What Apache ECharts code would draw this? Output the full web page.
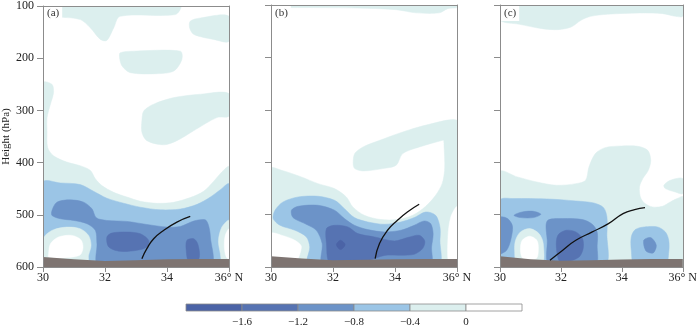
<!DOCTYPE html>
<html>
<head>
<meta charset="utf-8">
<script src="https://cdn.jsdelivr.net/npm/echarts@6/dist/echarts.min.js"></script>
<style>
html, body { margin: 0; background: #fff; }
#chart { width: 700px; height: 328px; }
</style>
</head>
<body>
<div id="chart"></div>
<script>
// contour levels: 1 (< -1.6) ... 5 (-0.4..0), 6 (> 0)
const levelColors = { 1: '#4b63a6', 2: '#5673b2', 3: '#6c93c8', 4: '#9bc5e6', 5: '#dcefee', 6: '#ffffff' }
const barEdges = [-2.0, -1.6, -1.2, -0.8, -0.4, 0, 0.4]
const barLevels = [1, 2, 3, 4, 5, 6]
const panelNames = ['(a)', '(b)', '(c)']

// filled contour regions [level, [[lat, hPa], ...]], drawn in order
const contoursA = [
  [5, [[30, 100], [34.43, 100], [34.27, 116.5], [32.49, 119.7], [32.28, 142], [32.06, 166], [31.85, 164], [31.53, 142], [31.2, 126], [30.56, 121.6], [30, 121.6]]],
  [5, [[34.75, 129], [35.08, 122.9], [36, 119.7], [36, 167.4], [35.5, 164], [34.87, 154.6], [34.73, 142]]],
  [5, [[32.49, 189.7], [32.92, 186.5], [34.43, 186.5], [34.48, 202.4], [34.22, 224.7], [33.68, 229.7], [32.82, 227.8], [32.55, 215], [32.47, 199]]],
  [5, [[33.19, 320], [33.25, 301], [33.57, 288], [34.22, 275.5], [35.08, 269], [36, 268], [36, 310.5], [35.61, 313.7], [34.86, 339], [34.32, 358], [33.89, 366], [33.35, 358], [33.19, 342]]],
  [5, [[30, 247], [30.29, 250], [30.34, 266], [30.24, 288], [30.13, 314], [30.13, 339], [30.15, 371], [30.34, 387], [30.77, 399], [31.2, 406], [31.53, 415], [31.69, 431], [31.9, 444], [32.28, 457], [32.71, 466], [33.14, 474], [33.68, 478], [34.21, 476], [34.75, 467], [35.18, 455], [35.5, 436], [35.77, 418], [36, 408], [36, 600], [30, 600]]],
  [4, [[30, 437.7], [30.56, 439], [31.2, 442.1], [31.63, 454.9], [32.06, 468.2], [32.6, 477.8], [33.14, 485.4], [33.78, 490.5], [34.43, 489], [34.97, 480], [35.4, 466], [35.72, 452], [36, 441], [36, 600], [30, 600]]],
  [5, [[30, 549], [30.07, 539.5], [30.34, 528.6], [30.77, 523.6], [31.2, 526.7], [31.47, 539.5], [31.55, 558.5], [31.47, 577.6], [31.42, 596], [30, 596]]],
  [6, [[30.18, 574.5], [30.24, 555.4], [30.5, 542.6], [30.93, 539.5], [31.22, 547.7], [31.29, 563], [31.18, 577.6], [30.6, 583], [30.18, 580.8]]],
  [5, [[36, 511], [35.77, 523.5], [35.66, 549], [35.72, 574], [35.8, 596], [36, 596]]],
  [6, [[36, 527], [35.88, 539.4], [35.85, 561.7], [35.91, 580.8], [36, 584]]],
  [3, [[30.29, 491.7], [30.45, 475.8], [30.88, 471.4], [31.31, 475.8], [31.58, 488.6], [31.72, 505.7], [32.06, 510.8], [32.71, 512.7], [33.35, 518.5], [34.0, 523.5], [34.43, 522.3], [34.86, 512], [35.23, 509.5], [35.34, 520.4], [35.4, 542.6], [35.4, 596], [31.79, 596], [31.74, 555.3], [31.69, 530], [31.42, 517.2], [30.99, 510.8], [30.56, 507.6], [30.29, 501.3]]],
  [2, [[32.06, 542.6], [32.22, 535], [32.71, 533], [33.14, 536.3], [33.41, 549], [33.35, 561.7], [33.03, 568], [32.49, 570], [32.12, 561.7]]],
  [2, [[34.64, 549], [34.86, 545.8], [34.99, 555.3], [35.05, 577.6], [34.97, 590], [34.7, 590], [34.62, 568]]]
]

const contoursB = [
  [5, [[30, 100], [36, 100], [36, 105], [35.7, 107], [35.43, 115], [34.68, 115], [34.04, 109], [32.97, 106], [31.37, 105], [30, 104]]],
  [5, [[32.65, 402.7], [32.7, 383.6], [32.97, 370.9], [33.51, 358.2], [34.25, 342.3], [35.11, 327.6], [36, 320], [36, 351.8], [35.54, 358.2], [34.79, 370.9], [34.25, 383.6], [34.04, 405.8], [33.61, 412.2], [32.97, 416.7], [32.7, 412.2]]],
  [5, [[30, 412.2], [30.34, 415.4], [30.98, 428.1], [31.52, 440.9], [32.05, 450.4], [32.43, 466.3], [32.64, 485.4], [33.01, 501.3], [33.55, 509.5], [34.08, 509.5], [34.57, 501.3], [34.99, 484.1], [35.31, 463.1], [35.52, 440.9], [35.6, 415.4], [35.6, 390], [35.58, 364.5], [35.6, 345], [36, 340], [36, 600], [30, 600]]],
  [6, [[30, 536.3], [30.34, 539.4], [30.77, 549], [30.98, 561.7], [30.72, 596], [30, 596]]],
  [6, [[36, 485.4], [35.8, 504.5], [35.71, 542.6], [35.74, 596], [36, 596]]],
  [4, [[30.13, 491.7], [30.39, 475.8], [30.88, 466.3], [31.52, 465], [32.05, 472.7], [32.37, 488.6], [32.69, 505.7], [33.12, 514], [33.66, 518.5], [34.19, 514], [34.62, 505.7], [34.99, 495], [35.31, 501.3], [35.45, 523.5], [35.45, 549], [35.39, 596], [31.2, 596], [31.25, 561.7], [31.14, 542.6], [30.77, 529.9], [30.29, 520.4], [30.07, 507.6]]],
  [3, [[30.66, 491.7], [30.88, 484.1], [31.52, 482.2], [32.05, 491.7], [32.37, 507.6], [32.69, 520.4], [33.12, 528.6], [33.66, 533.1], [34.19, 529.9], [34.62, 520.4], [34.94, 512.1], [35.15, 517.2], [35.23, 536.3], [35.18, 561.7], [35.13, 596], [31.68, 596], [31.65, 555.3], [31.46, 529.9], [31.09, 517.2], [30.71, 505.7]]],
  [2, [[31.79, 526.7], [32.05, 520.4], [32.48, 523.5], [32.8, 536.3], [33.34, 542.6], [33.98, 550.3], [34.4, 543.9], [34.78, 539.4], [34.96, 550.3], [34.89, 564.9], [34.62, 575.7], [34.19, 577.6], [33.66, 578], [33.12, 588], [32.48, 592], [31.89, 592], [31.79, 555.3]]],
  [1, [[32.11, 557.3], [32.24, 549], [32.39, 557.3], [32.24, 566.8]]]
]

const contoursC = [
  [5, [[30, 100], [36, 100], [36, 121.6], [35.76, 121.6], [35.34, 116.5], [34.59, 115.2], [33.52, 117.7], [32.98, 121.6], [32.66, 129.2], [32.34, 141.9], [31.92, 147], [31.38, 145.1], [30.63, 136.8], [30, 129.2]]],
  [5, [[30, 418.6], [30.57, 428.1], [31.21, 437.7], [31.85, 444], [32.49, 440.9], [32.81, 434.5], [32.92, 409.1], [33.13, 383.6], [33.45, 372.2], [33.99, 369], [34.52, 369.6], [34.85, 377.3], [34.95, 396.3], [34.87, 415.4], [34.69, 431.3], [34.58, 447.2], [34.61, 466.3], [34.74, 477.8], [35.01, 485.4], [35.33, 484.1], [35.59, 475.8], [35.81, 469.5], [36, 466.3], [36, 600], [30, 600]]],
  [5, [[35.38, 444], [35.59, 434.5], [36, 431.3], [36, 460], [35.75, 456.8], [35.43, 450.4]]],
  [4, [[30, 472.7], [30.46, 469.5], [31.53, 470.1], [32.49, 473.9], [33.08, 477.8], [33.4, 486.7], [33.51, 504.5], [33.51, 536.3], [33.43, 596], [30, 596]]],
  [4, [[34.31, 542.6], [34.44, 528.6], [34.74, 523.5], [35.17, 523.5], [35.43, 533.1], [35.54, 549], [35.54, 571.2], [35.43, 596], [34.42, 596], [34.31, 568]]],
  [5, [[30.51, 549], [30.67, 533.1], [30.98, 526.7], [31.28, 536.3], [31.42, 555.3], [31.37, 596], [30.57, 596], [30.48, 568]]],
  [6, [[30.73, 549], [30.98, 541.3], [31.21, 549], [31.26, 564.9], [31.19, 584], [30.76, 584], [30.67, 568]]],
  [3, [[30, 505.7], [30.25, 507.6], [30.41, 522.3], [30.35, 549], [30.22, 568], [30.01, 575.7], [30, 575.7]]],
  [3, [[30.46, 501.3], [30.73, 494.9], [31.1, 493.7], [31.34, 499.4], [31.1, 505.7], [30.67, 505.7]]],
  [3, [[31.55, 512.1], [32.06, 507.6], [32.71, 509.5], [33.03, 518.5], [33.19, 533.1], [33.19, 558.5], [33.13, 596], [31.62, 596], [31.55, 549]]],
  [3, [[34.72, 549], [34.95, 543.9], [35.13, 558.5], [35.03, 573.1], [34.79, 569.3]]],
  [2, [[31.9, 539.4], [32.17, 529.9], [32.49, 533.1], [32.71, 545.8], [32.73, 564.9], [32.6, 580.8], [32.22, 590], [31.96, 590], [31.85, 561.7]]]
]

// terrain (surface pressure) along latitude
const terrainLat = [30, 31, 32, 33, 34, 35, 36]
const terrainA = [581, 585, 588.5, 587, 585, 584.5, 584.5]
const terrainB = [579.5, 584, 587, 586, 585, 584.5, 584.5]
const terrainC = [579.5, 585, 588, 587, 585.5, 584.5, 584.5]

// black line in each panel
const frontALat = [33.19, 33.35, 33.57, 33.89, 34.32, 34.75]
const frontAP = [584, 564.9, 545.8, 529.9, 514, 503.2]
const frontBLat = [33.36, 33.5, 33.76, 34.08, 34.4, 34.78]
const frontBP = [584, 555.3, 529.9, 510.8, 495, 480.3]
const frontCLat = [31.64, 32.06, 32.49, 33.03, 33.56, 34.04, 34.42, 34.76]
const frontCP = [587, 568, 549, 533.1, 517.2, 498.1, 490.5, 486.7]

const contours = [contoursA, contoursB, contoursC]
const terrains = [terrainA, terrainB, terrainC]
const fronts = [[frontALat, frontAP], [frontBLat, frontBP], [frontCLat, frontCP]]

const serif = '"Liberation Serif", "DejaVu Serif", serif'
const frameColor = '#8c8c8c'
const gridLefts = [43, 271, 500]

const chart = echarts.init(document.getElementById('chart'))

const grids = gridLefts.map((left) => ({ left, top: 5, width: 186, height: 262 }))
grids.push({ left: 186, top: 304, width: 336, height: 10 })

const xAxis = []
const yAxis = []
const lineOnly = { show: true, lineStyle: { color: frameColor, width: 1 } }
for (let i = 0; i < 3; i++) {
  xAxis.push({
    gridIndex: i, type: 'value', min: 30, max: 36, interval: 2, position: 'bottom', z: 10,
    axisLine: lineOnly,
    axisTick: { show: true, length: 5, lineStyle: { color: frameColor } },
    axisLabel: {
      margin: 5, color: '#222', fontFamily: serif, fontSize: 12,
      formatter: (v) => (v === 36 ? '36° N' : String(v))
    },
    splitLine: { show: false }
  })
  xAxis.push({
    gridIndex: i, type: 'value', min: 30, max: 36, position: 'top', z: 10,
    axisLine: lineOnly, axisTick: { show: false }, axisLabel: { show: false }, splitLine: { show: false }
  })
  yAxis.push({
    gridIndex: i, type: 'value', min: 100, max: 600, interval: 100, inverse: true, position: 'left', z: 10,
    name: i === 0 ? 'Height (hPa)' : '',
    nameLocation: 'middle', nameGap: 31, nameRotate: 90,
    nameTextStyle: { fontFamily: serif, fontSize: 11, color: '#222' },
    axisLine: lineOnly,
    axisTick: { show: true, length: 6, lineStyle: { color: frameColor } },
    axisLabel: { show: i === 0, margin: 9, color: '#222', fontFamily: serif, fontSize: 12 },
    splitLine: { show: false }
  })
  yAxis.push({
    gridIndex: i, type: 'value', min: 100, max: 600, inverse: true, position: 'right', z: 10,
    axisLine: lineOnly, axisTick: { show: false }, axisLabel: { show: false }, splitLine: { show: false }
  })
}
// colour bar axes
xAxis.push({
  gridIndex: 3, type: 'value', min: -2.0, max: 0.4, interval: 0.4,
  axisLine: { show: false }, axisTick: { show: false }, splitLine: { show: false },
  axisLabel: {
    margin: 6, color: '#222', fontFamily: serif, fontSize: 11,
    formatter: (v) => {
      if (v < -1.9 || v > 0.3) return ''
      if (Math.abs(v) < 1e-9) return '0'
      return '\u2212' + Math.abs(v).toFixed(1)
    }
  }
})
yAxis.push({ gridIndex: 3, type: 'value', min: 0, max: 1, show: false })

function contourSeries(polys, axisIdx) {
  return {
    type: 'custom',
    xAxisIndex: axisIdx,
    yAxisIndex: axisIdx,
    clip: true,
    silent: true,
    z: 1,
    data: polys.map((pl) => pl[1][0]),
    renderItem: (params, api) => {
      const [lvl, pts] = polys[params.dataIndex]
      return {
        type: 'polygon',
        shape: { points: pts.map((pt) => api.coord(pt)), smooth: 0.3 },
        style: { fill: levelColors[lvl], stroke: levelColors[lvl], lineWidth: 0.5 }
      }
    }
  }
}

const series = []
for (let i = 0; i < 3; i++) {
  const ax = i * 2
  series.push(contourSeries(contours[i], ax))
  series.push({
    type: 'line', xAxisIndex: ax, yAxisIndex: ax, silent: true, z: 3,
    showSymbol: false, symbol: 'none',
    data: terrainLat.map((lat, k) => [lat, terrains[i][k]]),
    lineStyle: { width: 0 },
    areaStyle: { origin: 'end', color: '#7e7471', opacity: 1 }
  })
  const [lats, ps] = fronts[i]
  series.push({
    type: 'line', xAxisIndex: ax, yAxisIndex: ax, silent: true, z: 4,
    showSymbol: false, symbol: 'none', smooth: true,
    data: lats.map((lat, k) => [lat, ps[k]]),
    lineStyle: { color: '#111', width: 1.3 }
  })
}
series.push({
  type: 'custom', xAxisIndex: 6, yAxisIndex: 6, silent: true,
  data: barLevels.map((lvl, k) => [barEdges[k], barEdges[k + 1], lvl]),
  renderItem: (params, api) => {
    const start = api.coord([api.value(0), 0])
    const end = api.coord([api.value(1), 1])
    return {
      type: 'rect',
      shape: { x: start[0], y: end[1], width: end[0] - start[0], height: start[1] - end[1] },
      style: { fill: levelColors[api.value(2)], stroke: '#8a8a8a', lineWidth: 0.8 }
    }
  }
})

chart.setOption({
  animation: false,
  backgroundColor: '#fff',
  title: panelNames.map((name, i) => ({
    text: name,
    left: gridLefts[i] + 1,
    top: 6,
    padding: [2, 3],
    backgroundColor: '#fff',
    textStyle: { fontFamily: serif, fontSize: 11, fontWeight: 'normal', color: '#333' }
  })),
  grid: grids,
  xAxis,
  yAxis,
  series
})
</script>
</body>
</html>
